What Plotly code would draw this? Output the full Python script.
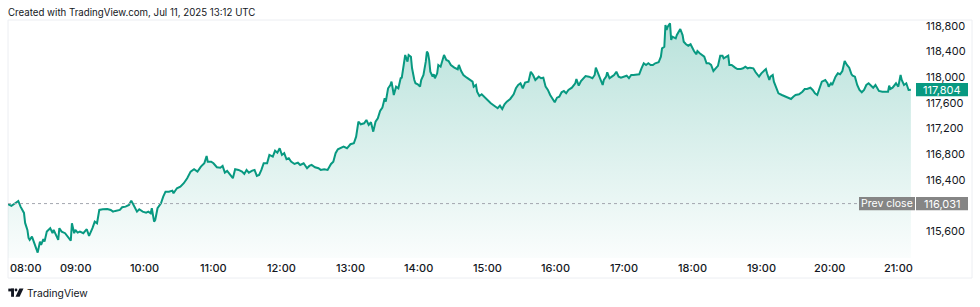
import pandas as pd
import plotly.graph_objects as go

# ---------------- data ----------------
header_text = "Created with TradingView.com, Jul 11, 2025 13:12 UTC"
brand_text = "TradingView"
session_start = "2025-07-11 08:00"
session_end = "2025-07-11 21:12"

minutes_since_open = [
    0, 3, 6, 9, 11, 14, 15, 17, 18, 19, 21, 23, 25, 26, 28, 29, 31, 32, 34, 37,
    39, 40, 42, 44, 45, 47, 50, 53, 55, 56, 58, 59, 61, 63, 66, 69, 71, 74, 76, 78,
    80, 83, 87, 90, 92, 94, 98, 100, 103, 106, 108, 110, 113, 115, 118, 121, 123, 125, 126, 128,
    129, 131, 134, 136, 138, 141, 144, 145, 148, 151, 154,
    157, 160, 163, 166, 169, 172, 174, 175, 178, 180, 183, 186, 188, 190, 192, 195, 197, 199, 202, 205,
    207, 209, 211, 214, 216, 218, 220, 222, 224, 227, 229, 232, 234, 236, 238, 240, 242, 244, 246, 248,
    251, 254, 256, 259, 262, 264, 266, 269, 272, 274, 277, 280, 283, 285, 287, 289, 291,
    294, 297, 300, 303, 305, 307, 309, 312, 314, 316, 318, 320, 322, 324, 326, 328, 330, 331, 333, 335,
    336, 338, 340, 342, 344, 345, 347, 348, 350, 351, 353, 354, 356, 357, 359, 361, 362, 364, 366, 367,
    368, 369, 370, 372, 373, 374, 376, 377, 379, 381, 382, 384, 386, 388, 391, 394, 395, 397, 399, 402,
    405, 407, 408, 410, 411, 413, 415, 417, 420, 423, 426, 429, 431, 433, 435, 437, 440, 443, 445, 447,
    449, 451, 453,
    456, 458, 460, 462, 465, 467, 469, 471, 473, 475, 477, 479, 481, 483, 485, 487, 489, 491, 494, 497,
    498, 500, 502, 504, 506, 509, 512, 514, 515, 517, 519, 521, 522, 524, 525, 527, 529, 531, 533, 535,
    537, 540, 542, 544, 546, 548, 551, 553, 555, 557, 559, 561, 563, 565, 567, 570, 572, 573, 575, 576,
    577, 578, 580, 581, 582, 585, 586, 588, 589, 591, 592, 594, 596, 598, 600, 601, 603, 604, 606, 608,
    610, 612, 614, 616, 618, 620, 622, 624,
    626, 627, 629, 631, 632, 634, 637, 639, 642, 644, 646, 648, 650, 653, 655, 658, 660, 662, 664, 665,
    667, 668, 670, 671, 673, 675, 678, 681, 684, 686, 688, 690, 693, 696, 698, 700, 703, 705, 707, 709,
    711, 713, 716, 718, 719, 721, 722, 724, 725, 727, 729, 731, 732, 733, 735, 737, 739, 740, 742, 744,
    746, 748, 750, 752, 754, 756, 758, 760, 763, 766, 769, 771, 772, 773, 775, 778, 779, 780, 782, 783,
    785, 787, 789, 791,
]

prices = [
    116021, 115995, 116033, 116072, 115984, 115886, 115730, 115621, 115497, 115466, 115517, 115419, 115341, 115268, 115439, 115388, 115476, 115439, 115595, 115648,
    115570, 115621, 115543, 115466, 115648, 115595, 115570, 115492, 115455, 115725, 115570, 115621, 115579, 115595, 115570, 115632, 115528, 115648, 115750, 115725,
    115932, 115943, 115948, 115932, 115906, 115917, 115932, 115974, 115984, 116010, 116077, 116010, 115906, 115943, 115906, 115890, 115906, 115881, 115959, 115750,
    115777, 115959, 116037, 116139, 116217, 116217, 116233, 116192, 116270, 116295, 116348,
    116426, 116528, 116566, 116528, 116606, 116659, 116773, 116684, 116684, 116659, 116597, 116590, 116617, 116513, 116539, 116477, 116426, 116566, 116555, 116528,
    116493, 116555, 116513, 116544, 116555, 116461, 116477, 116555, 116659, 116659, 116788, 116762, 116855, 116824, 116892, 116788, 116815, 116721, 116737, 116684,
    116648, 116668, 116633, 116659, 116581, 116617, 116633, 116597, 116581, 116555, 116566, 116555, 116648, 116684, 116815, 116877, 116892,
    116917, 116892, 116955, 116970, 117073, 117306, 117266, 117281, 117333, 117255, 117297, 117151, 117306, 117359, 117473, 117524, 117670, 117618, 117826, 117877,
    117929, 117722, 117851, 117826, 117982, 117991, 118293, 118344, 118240, 118344, 118318, 118137, 117955, 117904, 117888, 117851, 117955, 118033, 118240, 118396,
    118371, 118266, 118084, 118007, 118044, 117982, 118059, 118189, 118162, 118318, 118344, 118266, 118251, 118189, 118147, 118122, 118189, 118095, 118033, 117991,
    117955, 117929, 117851, 117877, 117773, 117706, 117733, 117695, 117644, 117593, 117555, 117515, 117555, 117504, 117577, 117618, 117660, 117733, 117826, 117877,
    117904, 117826, 117915,
    117929, 118084, 118033, 117955, 118007, 117982, 117991, 117851, 117800, 117722, 117670, 117608, 117680, 117695, 117764, 117784, 117748, 117800, 117835, 117904,
    117971, 117867, 117940, 117982, 118017, 118007, 117982, 118033, 118147, 118059, 117955, 117877, 117955, 118007, 118075, 117982, 118007, 118033, 118084, 118007,
    117991, 118007, 118022, 117982, 118033, 118033, 118044, 118044, 118137, 118215, 118189, 118215, 118189, 118189, 118215, 118231, 118318, 118448, 118473, 118811,
    118733, 118785, 118837, 118578, 118629, 118604, 118655, 118733, 118749, 118655, 118551, 118511, 118489, 118511, 118422, 118406, 118355, 118406, 118371, 118344,
    118318, 118215, 118215, 118189, 118095, 118137, 118175, 118333,
    118333, 118293, 118318, 118333, 118189, 118189, 118147, 118126, 118126, 118137, 118162, 118137, 118147, 118137, 118075, 118007, 118059, 118095, 118126, 118059,
    117955, 118007, 118033, 117929, 117826, 117748, 117722, 117695, 117670, 117660, 117695, 117722, 117733, 117773, 117815, 117815, 117835, 117800, 117748, 117722,
    117826, 117929, 117955, 117904, 117851, 117904, 117877, 117971, 118007, 118059, 118044, 118095, 118162, 118251, 118189, 118147, 118044, 118022, 118007, 117877,
    117800, 117764, 117800, 117877, 117904, 117867, 117835, 117877, 117784, 117773, 117773, 117773, 117867, 117815, 117835, 117904, 117877, 117851, 118033, 117955,
    117877, 117904, 117800, 117804,
]

prev_close = 116031
price_ticks = [115600, 116400, 116800, 117200, 117600, 118000, 118400, 118800]
price_range = [115184, 118889]
time_tick_labels = ["08:00", "09:00", "10:00", "11:00", "12:00", "13:00", "14:00",
                    "15:00", "16:00", "17:00", "18:00", "19:00", "20:00", "21:00"]

assert len(minutes_since_open) == len(prices)

# ---------------- styling ----------------
GREEN = "#089981"
GREY_LABEL = "#858585"
TEXT = "#131722"
FONT = "Inter, Roboto, 'Liberation Sans', sans-serif"

W, H = 980, 307
ML, MR, MT, MB = 8, 68, 20, 49
PW, PH = W - ML - MR, H - MT - MB


def px(x, y):
    """page pixel -> paper coords (for decorations only)"""
    return (x - ML) / PW, (H - MB - y) / PH


base = pd.Timestamp(session_start)
times = base + pd.to_timedelta(minutes_since_open, unit="min")

fig = go.Figure()
fig.add_trace(go.Scatter(
    x=times, y=prices, mode="lines",
    line=dict(color=GREEN, width=2),
    fill="tozeroy",
    fillgradient=dict(type="vertical",
                      colorscale=[[0, "rgba(8,153,129,0.02)"], [1, "rgba(8,153,129,0.29)"]],
                      start=price_range[0], stop=price_range[1]),
    hoverinfo="skip",
))

shapes = []
annotations = []

# frame
fx0, fy0 = px(8, 278)
fx1, fy1 = px(972, 20)
shapes.append(dict(type="rect", xref="paper", yref="paper", x0=fx0, x1=fx1, y0=fy0, y1=fy1,
                   line=dict(color="#eceef2", width=1), fillcolor="rgba(0,0,0,0)", layer="below"))

# prev close dotted line
shapes.append(dict(type="line", xref="paper", yref="y", x0=0, x1=px(858, 0)[0],
                   y0=prev_close, y1=prev_close, line=dict(color="#a3a6af", width=1, dash="dot")))

# label boxes (pixel sized, anchored to prices)
def box(price, x0, x1, color):
    shapes.append(dict(type="rect", xref="paper", yref="y", xsizemode="pixel", ysizemode="pixel",
                       xanchor=1, yanchor=price, x0=x0, x1=x1, y0=-6.6, y1=6.6,
                       fillcolor=color, line=dict(width=0), layer="above"))

box(prev_close, -53, 3, GREY_LABEL)
box(prev_close, 4, 56, GREY_LABEL)
last_price = prices[-1]
box(last_price, 4, 56, GREEN)

label_font = dict(family=FONT, size=11, color="white")
annotations.append(dict(xref="paper", yref="y", x=1, y=prev_close, xshift=-25, text="Prev close",
                        showarrow=False, font=dict(family=FONT, size=10.5, color="white"),
                        xanchor="center", yanchor="middle"))
annotations.append(dict(xref="paper", yref="y", x=1, y=prev_close, xshift=30, text=f"{prev_close:,}",
                        showarrow=False, font=label_font, xanchor="center", yanchor="middle"))
annotations.append(dict(xref="paper", yref="y", x=1, y=last_price, xshift=30, text=f"{last_price:,}",
                        showarrow=False, font=label_font, xanchor="center", yanchor="middle"))

# time axis labels
for i, lab in enumerate(time_tick_labels):
    t = pd.Timestamp(f"2025-07-11 {lab}")
    annotations.append(dict(xref="x", yref="paper", x=t, y=0, yshift=-10, text=lab, showarrow=False,
                            xanchor="left" if i == 0 else "center", yanchor="middle",
                            font=dict(family=FONT, size=11, color=TEXT, weight=500)))

# header
annotations.append(dict(xref="paper", yref="paper", x=0, y=1, xshift=-2, yshift=8, text=header_text,
                        showarrow=False, xanchor="left", yanchor="middle",
                        font=dict(family=FONT, size=9.7, color=TEXT)))

# brand
annotations.append(dict(xref="paper", yref="paper", x=0, y=0, xshift=17, yshift=-35, text=brand_text,
                        showarrow=False, xanchor="left", yanchor="middle",
                        font=dict(family=FONT, size=10.3, color=TEXT)))

# logo (T + dot + slash)
def rect_px(x0, y0, x1, y1):
    a, b = px(x0, y1)
    c, d = px(x1, y0)
    shapes.append(dict(type="rect", xref="paper", yref="paper", x0=a, x1=c, y0=b, y1=d,
                       fillcolor=TEXT, line=dict(width=0)))

rect_px(8.3, 288.6, 14.0, 291.4)
rect_px(11.1, 288.6, 14.0, 296.8)
ca, cb = px(14.6, 291.4)
cc, cd = px(17.4, 288.6)
shapes.append(dict(type="circle", xref="paper", yref="paper", x0=ca, x1=cc, y0=cb, y1=cd,
                   fillcolor=TEXT, line=dict(width=0)))
pts = [px(19.4, 288.6), px(23.5, 288.6), px(19.6, 296.8), px(15.5, 296.8)]
path = "M " + " L ".join(f"{a},{b}" for a, b in pts) + " Z"
shapes.append(dict(type="path", xref="paper", yref="paper", path=path,
                   fillcolor=TEXT, line=dict(width=0)))

fig.update_layout(
    width=W, height=H,
    margin=dict(l=ML, r=MR, t=MT, b=MB, pad=0),
    paper_bgcolor="white", plot_bgcolor="white",
    showlegend=False,
    font=dict(family=FONT, size=11, color=TEXT),
    xaxis=dict(range=[session_start, session_end], showticklabels=False, showgrid=False,
               zeroline=False, showline=False, ticks="", fixedrange=True),
    yaxis=dict(side="right", range=price_range, tickvals=price_ticks, tickformat=",d",
               showgrid=False, zeroline=False, showline=False, ticks="",
               ticklabelstandoff=13, tickfont=dict(family=FONT, size=11, color=TEXT),
               fixedrange=True),
    shapes=shapes,
    annotations=annotations,
)

fig.write_html("out.html", config={"displayModeBar": False})
